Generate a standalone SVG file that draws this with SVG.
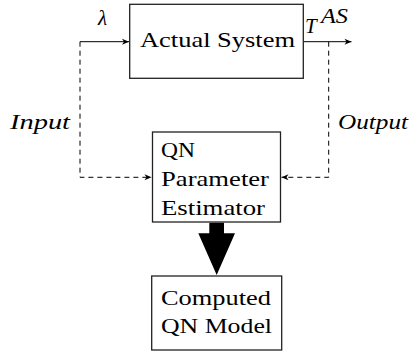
<svg xmlns="http://www.w3.org/2000/svg" width="412" height="353" viewBox="0 0 412 353">
<defs>
<style>
.box{fill:#fff;stroke:#222;stroke-width:1.3}
.t{font-family:'Liberation Serif','DejaVu Serif',serif;font-size:21px;fill:#000}
.i{font-style:italic}
.c{fill:none;stroke:#000;stroke-width:1}
.d{stroke-dasharray:5,4}
</style>
<marker id="ah" markerWidth="10" markerHeight="8" viewBox="-8 -4 10 8" refX="0" refY="0" orient="auto" markerUnits="userSpaceOnUse">
<path d="M0,0 L-7,-3 L-5,0 L-7,3 Z" fill="#000"/>
</marker>
</defs>
<g id="connectors">
<path class="c" d="M80,41.7 H129" marker-end="url(#ah)"/>
<path class="c" d="M303.3,41.7 H351.5" marker-end="url(#ah)"/>
<path class="c d" d="M80,41.7 V177.3 H151.5" marker-end="url(#ah)"/>
<path class="c d" d="M328.7,41.7 V177.3 H281.5" marker-end="url(#ah)"/>
<polygon points="209.3,222.7 224,222.7 224,233.3 235,233.3 216.7,275 198.3,233.3 209.3,233.3" fill="#000"/>
</g>
<g id="labels">
<text class="t i" x="98" y="25">λ</text>
<text class="t i" x="305" y="33">T</text>
<text class="t i" x="321" y="23" font-size="15" textLength="27" lengthAdjust="spacingAndGlyphs">AS</text>
<text class="t i" x="10" y="129.3" textLength="60" lengthAdjust="spacingAndGlyphs">Input</text>
<text class="t i" x="338" y="129.3" textLength="70" lengthAdjust="spacingAndGlyphs">Output</text>
</g>
<g id="actual-system">
<rect class="box" x="129.7" y="4.3" width="173.6" height="74"/>
<text class="t" x="140" y="47" textLength="155" lengthAdjust="spacingAndGlyphs">Actual System</text>
</g>
<g id="qn-parameter-estimator">
<rect class="box" x="152.5" y="132" width="128" height="90"/>
<text class="t" x="161" y="156.7" textLength="34" lengthAdjust="spacingAndGlyphs">QN</text>
<text class="t" x="161" y="186" textLength="108" lengthAdjust="spacingAndGlyphs">Parameter</text>
<text class="t" x="161" y="215" textLength="104" lengthAdjust="spacingAndGlyphs">Estimator</text>
</g>
<g id="computed-qn-model">
<rect class="box" x="151.7" y="276" width="130" height="74"/>
<text class="t" x="161" y="305" textLength="110" lengthAdjust="spacingAndGlyphs">Computed</text>
<text class="t" x="161" y="333" textLength="111" lengthAdjust="spacingAndGlyphs">QN Model</text>
</g>
</svg>
